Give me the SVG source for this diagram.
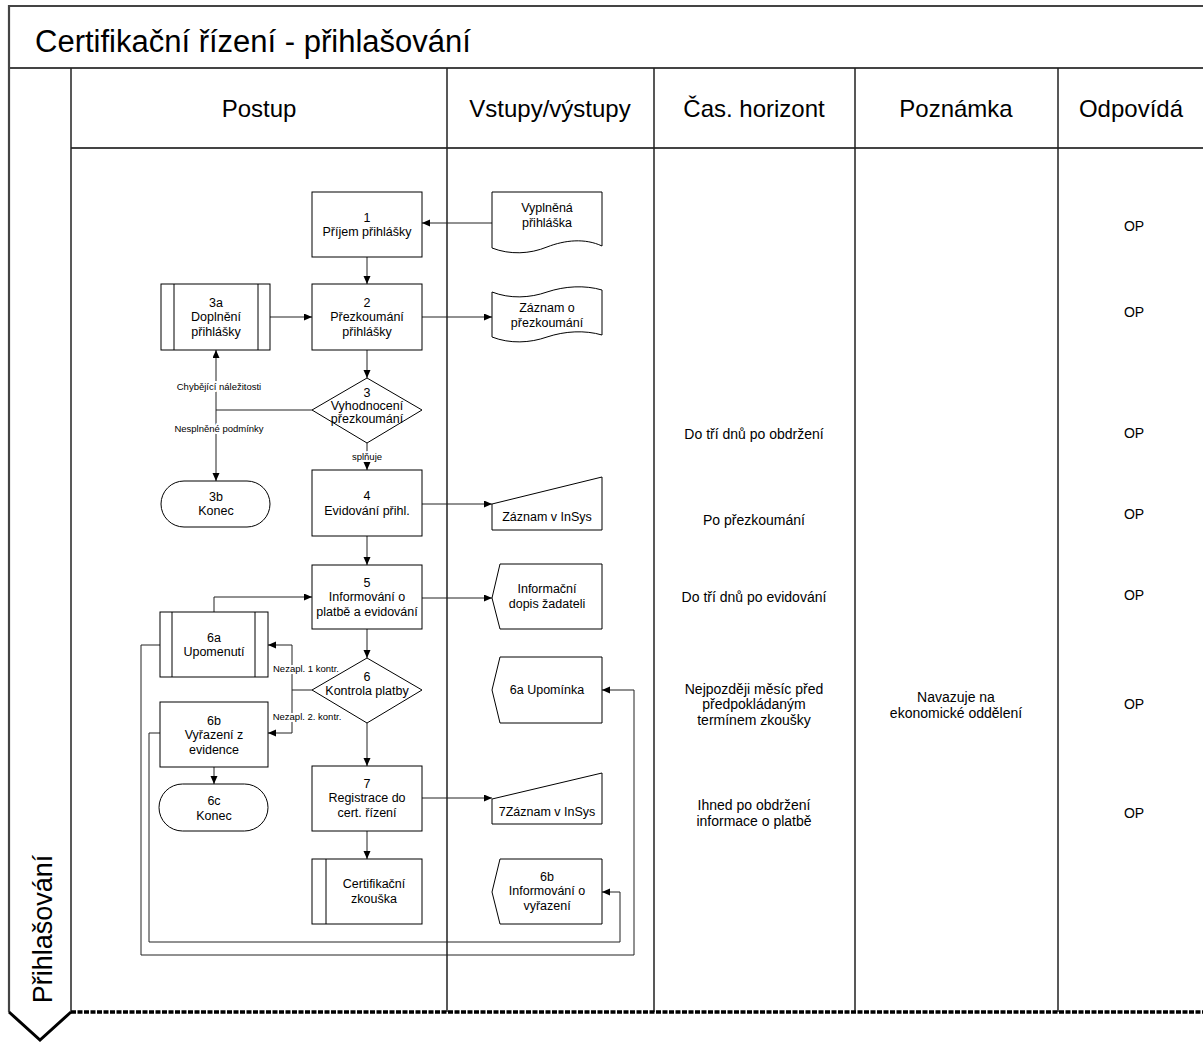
<svg xmlns="http://www.w3.org/2000/svg" width="1203" height="1042" viewBox="0 0 1203 1042">
  <style>
    text { font-family: "Liberation Sans", Arial, sans-serif; fill: #000; }
    .title { font-size: 31px; }
    .hdr { font-size: 24px; text-anchor: middle; }
    .lane { font-size: 27px; text-anchor: middle; }
    .t { font-size: 12.5px; text-anchor: middle; }
    .c { font-size: 14px; text-anchor: middle; }
    .lbl { font-size: 9.5px; text-anchor: middle; stroke: #fff; stroke-width: 4px; paint-order: stroke; stroke-linejoin: round; }
    .frame { fill: none; stroke: #444; stroke-width: 2.2; }
    .col { fill: none; stroke: #222; stroke-width: 1.5; }
    .shape { fill: #fff; stroke: #000; stroke-width: 1; }
    .conn { fill: none; stroke: #222; stroke-width: 1; }
  </style>
  <defs>
    <marker id="arrow" markerUnits="userSpaceOnUse" markerWidth="9" markerHeight="8" refX="8" refY="3.5" orient="auto">
      <path d="M0,0 L8,3.5 L0,7 Z" fill="#000"/>
    </marker>
  </defs>

  <rect width="1203" height="1042" fill="#fff"/>

  <!-- swimlane frame -->
  <g id="frame">
    <path class="frame" d="M9,1012 V6 H1203"/>
    <path class="frame" d="M9,68 H1203"/>
    <path class="frame" d="M71,148 H1203"/>
    <path class="col" d="M71,68 V1012"/>
    <path class="col" d="M447,68 V1012 M654,68 V1012 M855,68 V1012 M1058,68 V1012"/>
    <path d="M71,1012 H1203" fill="none" stroke="#000" stroke-width="3.5" stroke-dasharray="5 1.5"/>
    <path d="M9,1012 L40,1040 L71,1012" fill="none" stroke="#000" stroke-width="3"/>
    <text class="title" x="35" y="52">Certifikační řízení - přihlašování</text>
    <text class="hdr" x="259" y="117">Postup</text>
    <text class="hdr" x="550" y="117">Vstupy/výstupy</text>
    <text class="hdr" x="754" y="117">Čas. horizont</text>
    <text class="hdr" x="956" y="117">Poznámka</text>
    <text class="hdr" x="1131" y="117">Odpovídá</text>
    <text class="lane" transform="translate(52,929) rotate(-90)">Přihlašování</text>
  </g>

  <!-- connectors -->
  <g id="connectors">
    <path class="conn" d="M492,223 H422" marker-end="url(#arrow)"/>
    <path class="conn" d="M367,257 V284" marker-end="url(#arrow)"/>
    <path class="conn" d="M270,317 H312" marker-end="url(#arrow)"/>
    <path class="conn" d="M422,317 H492" marker-end="url(#arrow)"/>
    <path class="conn" d="M367,350 V378" marker-end="url(#arrow)"/>
    <path class="conn" d="M312,410 H216 V350" marker-end="url(#arrow)"/>
    <path class="conn" d="M216,410 V481" marker-end="url(#arrow)"/>
    <path class="conn" d="M367,443 V470" marker-end="url(#arrow)"/>
    <path class="conn" d="M422,504 H492" marker-end="url(#arrow)"/>
    <path class="conn" d="M367,536 V565" marker-end="url(#arrow)"/>
    <path class="conn" d="M422,598 H492" marker-end="url(#arrow)"/>
    <path class="conn" d="M214,612 V597 H312" marker-end="url(#arrow)"/>
    <path class="conn" d="M367,629 V658" marker-end="url(#arrow)"/>
    <path class="conn" d="M312,690 H292 V645 H268" marker-end="url(#arrow)"/>
    <path class="conn" d="M292,690 V733 H268" marker-end="url(#arrow)"/>
    <path class="conn" d="M367,723 V766" marker-end="url(#arrow)"/>
    <path class="conn" d="M214,767 V784" marker-end="url(#arrow)"/>
    <path class="conn" d="M422,798 H492" marker-end="url(#arrow)"/>
    <path class="conn" d="M367,831 V859" marker-end="url(#arrow)"/>
    <path class="conn" d="M160,645 H141 V955 H634 V690 H602" marker-end="url(#arrow)"/>
    <path class="conn" d="M160,733 H149 V942 H620 V892 H602" marker-end="url(#arrow)"/>
    <text class="lbl" x="219" y="390">Chybějící náležitosti</text>
    <text class="lbl" x="219" y="432">Nesplněné podmínky</text>
    <text class="lbl" x="367" y="460">splňuje</text>
    <text class="lbl" x="306" y="672">Nezapl. 1 kontr.</text>
    <text class="lbl" x="307" y="720">Nezapl. 2. kontr.</text>
  </g>

  <!-- process steps -->
  <g id="n1">
    <rect class="shape" x="312" y="192" width="110" height="65"/>
    <text class="t" x="367" y="221.5">1</text>
    <text class="t" x="367" y="236">Příjem přihlášky</text>
  </g>
  <g id="n2">
    <rect class="shape" x="312" y="284" width="110" height="66"/>
    <text class="t" x="367" y="306.5">2</text>
    <text class="t" x="367" y="321">Přezkoumání</text>
    <text class="t" x="367" y="335.5">přihlášky</text>
  </g>
  <g id="n3a">
    <rect class="shape" x="161" y="284" width="109" height="66"/>
    <path class="shape" d="M174,284 V350 M258,284 V350"/>
    <text class="t" x="216" y="306.5">3a</text>
    <text class="t" x="216" y="321">Doplnění</text>
    <text class="t" x="216" y="335.5">přihlášky</text>
  </g>
  <g id="n3">
    <polygon class="shape" points="367,378 422,410 367,443 312,410"/>
    <text class="t" x="367" y="396.5">3</text>
    <text class="t" x="367" y="409.5">Vyhodnocení</text>
    <text class="t" x="367" y="422.5">přezkoumání</text>
  </g>
  <g id="n3b">
    <rect class="shape" x="161" y="481" width="109" height="46" rx="23" ry="23"/>
    <text class="t" x="216" y="500.5">3b</text>
    <text class="t" x="216" y="515">Konec</text>
  </g>
  <g id="n4">
    <rect class="shape" x="312" y="470" width="110" height="66"/>
    <text class="t" x="367" y="500">4</text>
    <text class="t" x="367" y="514.5">Evidování přihl.</text>
  </g>
  <g id="n5">
    <rect class="shape" x="312" y="565" width="110" height="64"/>
    <text class="t" x="367" y="586.5">5</text>
    <text class="t" x="367" y="601">Informování o</text>
    <text class="t" x="367" y="615.5">platbě a evidování</text>
  </g>
  <g id="n6a">
    <rect class="shape" x="160" y="612" width="108" height="65"/>
    <path class="shape" d="M172,612 V677 M255,612 V677"/>
    <text class="t" x="214" y="641.5">6a</text>
    <text class="t" x="214" y="656">Upomenutí</text>
  </g>
  <g id="n6">
    <polygon class="shape" points="367,658 422,690 367,723 312,690"/>
    <text class="t" x="367" y="680.5">6</text>
    <text class="t" x="367" y="695">Kontrola platby</text>
  </g>
  <g id="n6b">
    <rect class="shape" x="160" y="702" width="108" height="65"/>
    <text class="t" x="214" y="724.5">6b</text>
    <text class="t" x="214" y="739">Vyřazení z</text>
    <text class="t" x="214" y="753.5">evidence</text>
  </g>
  <g id="n6c">
    <rect class="shape" x="159" y="784" width="109" height="47" rx="23.5" ry="23.5"/>
    <text class="t" x="214" y="805">6c</text>
    <text class="t" x="214" y="819.5">Konec</text>
  </g>
  <g id="n7">
    <rect class="shape" x="312" y="766" width="110" height="65"/>
    <text class="t" x="367" y="787.5">7</text>
    <text class="t" x="367" y="802">Registrace do</text>
    <text class="t" x="367" y="816.5">cert. řízení</text>
  </g>
  <g id="n8">
    <rect class="shape" x="312" y="859" width="110" height="65"/>
    <path class="shape" d="M326,859 V924"/>
    <text class="t" x="374" y="888">Certifikační</text>
    <text class="t" x="374" y="902.5">zkouška</text>
  </g>

  <!-- inputs / outputs -->
  <g id="d1">
    <path class="shape" d="M492,192 H602 V246 C585,238 565,240 547,247 C530,254 510,255 492,248 Z"/>
    <text class="t" x="547" y="212">Vyplněná</text>
    <text class="t" x="547" y="226.5">přihláška</text>
  </g>
  <g id="d2">
    <path class="shape" d="M492,292 C510,299 530,298 547,292 C565,286 585,285 602,290 V335 C585,330 565,331 547,337 C530,343 510,344 492,337 Z"/>
    <text class="t" x="547" y="312">Záznam o</text>
    <text class="t" x="547" y="326.5">přezkoumání</text>
  </g>
  <g id="d4">
    <polygon class="shape" points="492,504 602,477 602,530 492,530"/>
    <text class="t" x="547" y="521">Záznam v InSys</text>
  </g>
  <g id="d5">
    <polygon class="shape" points="500,564 602,564 602,629 500,629 492,598"/>
    <text class="t" x="547" y="593">Informační</text>
    <text class="t" x="547" y="607.5">dopis žadateli</text>
  </g>
  <g id="d6a">
    <polygon class="shape" points="500,657 602,657 602,723 500,723 492,690"/>
    <text class="t" x="547" y="694">6a Upomínka</text>
  </g>
  <g id="d7">
    <polygon class="shape" points="492,799 602,773 602,824 492,824"/>
    <text class="t" x="547" y="816">7Záznam v InSys</text>
  </g>
  <g id="d6b">
    <polygon class="shape" points="500,859 602,859 602,924 500,924 492,892"/>
    <text class="t" x="547" y="880.5">6b</text>
    <text class="t" x="547" y="895">Informování o</text>
    <text class="t" x="547" y="909.5">vyřazení</text>
  </g>

  <!-- time horizon, notes, responsibility -->
  <g id="cas">
    <text class="c" x="754" y="438.5">Do tří dnů po obdržení</text>
    <text class="c" x="754" y="524.5">Po přezkoumání</text>
    <text class="c" x="754" y="601.5">Do tří dnů po evidování</text>
    <text class="c" x="754" y="693.5">Nejpozději měsíc před</text>
    <text class="c" x="754" y="709">předpokládaným</text>
    <text class="c" x="754" y="724.5">termínem zkoušky</text>
    <text class="c" x="754" y="809.5">Ihned po obdržení</text>
    <text class="c" x="754" y="826">informace o platbě</text>
  </g>
  <g id="poznamka">
    <text class="c" x="956" y="701.5">Navazuje na</text>
    <text class="c" x="956" y="717.5">ekonomické oddělení</text>
  </g>
  <g id="odpovida">
    <text class="c" x="1134" y="230.5">OP</text>
    <text class="c" x="1134" y="316.5">OP</text>
    <text class="c" x="1134" y="437.5">OP</text>
    <text class="c" x="1134" y="518.5">OP</text>
    <text class="c" x="1134" y="599.5">OP</text>
    <text class="c" x="1134" y="708.5">OP</text>
    <text class="c" x="1134" y="817.5">OP</text>
  </g>
</svg>
